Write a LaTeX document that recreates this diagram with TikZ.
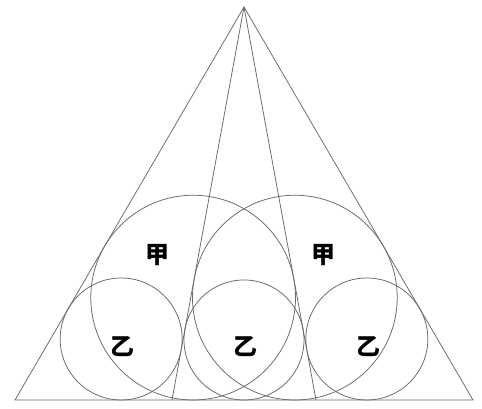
\documentclass[tikz,border=0pt]{standalone}
\usepackage{fontspec}
\newfontfamily\cjk{Noto Sans CJK SC}
\usetikzlibrary{calc}
\definecolor{pencil}{HTML}{6A6A6A}
\tikzset{
  edge/.style={draw=pencil,line width=0.55pt},
  lab/.style={font=\cjk\bfseries\fontsize{17}{17}\selectfont,inner sep=0pt}
}
% incircle of triangle #2 (apex) #3 #4 (base), centre named #1
\newcommand{\incirc}[4]{
  \path let \p1=(#2), \p2=(#3), \p3=(#4),
    \n1={veclen(\x3-\x2,\y3-\y2)}, \n2={veclen(\x1-\x3,\y1-\y3)},
    \n3={veclen(\x2-\x1,\y2-\y1)}, \n4={\n1+\n2+\n3},
    \n5={\n1/\n4*\x1+\n2/\n4*\x2+\n3/\n4*\x3},
    \n6={\n1/\n4*\y1+\n2/\n4*\y2+\n3/\n4*\y3}
    in coordinate (#1) at (\n5,\n6);
  \draw[edge] let \p1=(#1), \p2=(#3) in (#1) circle [radius=\y1-\y2];
}

\begin{document}
\begin{tikzpicture}[x=0.025cm,y=0.025cm]
  \useasboundingbox (0,0) rectangle (482,409);
  \coordinate (A) at (244,402);
  \coordinate (B) at (15,9);
  \coordinate (C) at (473,9);
  \coordinate (D) at (172,9);
  \coordinate (E) at (316,9);
  \draw[edge] (A) -- (B) -- (C) -- cycle;
  \draw[edge] (A) -- (D);
  \draw[edge] (A) -- (E);
  % big circles
  \incirc{J1}{A}{B}{E}
  \incirc{J2}{A}{D}{C}
  % small circles
  \incirc{Y1}{A}{B}{D}
  \incirc{Y2}{A}{D}{E}
  \incirc{Y3}{A}{E}{C}
  \node[lab] (jia1) at (157,154) {甲};
  \node[lab] (jia2) at (323,154) {甲};
  \node[lab] (yi1) at (122,62) {乙};
  \node[lab] (yi2) at (245,62) {乙};
  \node[lab] (yi3) at (368,62) {乙};
\end{tikzpicture}
\end{document}
